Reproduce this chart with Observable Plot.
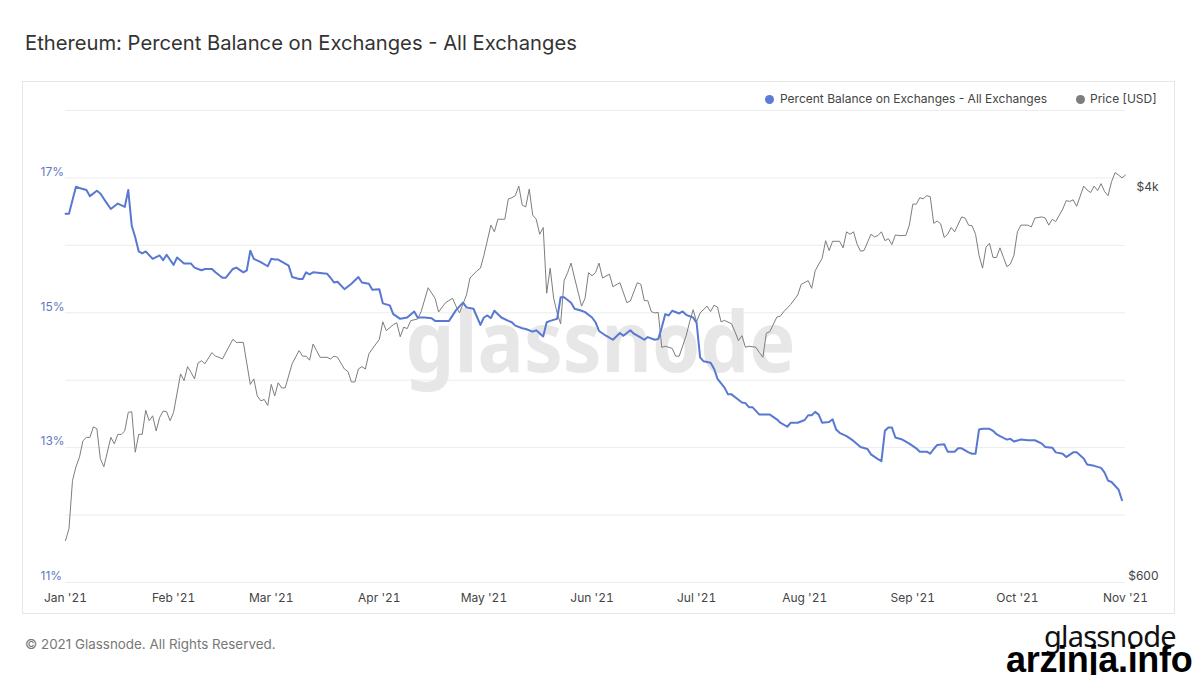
<!DOCTYPE html>
<html>
<head>
<meta charset="utf-8">
<script src="https://cdn.jsdelivr.net/npm/d3@7"></script>
<script src="https://cdn.jsdelivr.net/npm/@observablehq/plot@0.6"></script>
<style>
html,body{margin:0;padding:0;background:#fff;width:1199px;height:675px;overflow:hidden;font-family:Inter,"Noto Sans",sans-serif;}
#title{position:absolute;left:25px;top:30px;font-size:20.2px;color:#333;white-space:nowrap;}
#box{position:absolute;left:22px;top:81px;width:1151px;height:531px;border:1px solid #e6e6e6;box-sizing:content-box;}
#chart{position:absolute;left:0;top:0;}
.leg{position:absolute;top:91px;font-size:12px;color:#444;white-space:nowrap;line-height:16px;}
.dot{position:absolute;top:4px;width:9px;height:9px;border-radius:50%;}
#footer{position:absolute;left:25px;top:636px;font-size:13.4px;color:#777;white-space:nowrap;}
#logo{position:absolute;left:1044px;top:616px;font-family:"Noto Sans",sans-serif;font-size:29px;color:#111;letter-spacing:-0.8px;white-space:nowrap;}
#arz{position:absolute;left:1006px;top:642px;font-family:"Liberation Sans",Arial,sans-serif;font-weight:700;font-size:36px;color:#000;letter-spacing:-0.3px;white-space:nowrap;line-height:36px;}
</style>
</head>
<body>
<div id="title">Ethereum: Percent Balance on Exchanges - All Exchanges</div>
<div id="box"></div>
<div id="chart"></div>
<div class="leg" style="left:780px"><span class="dot" style="left:-15px;background:#5b7bd5"></span>Percent Balance on Exchanges - All Exchanges</div>
<div class="leg" style="left:1090px"><span class="dot" style="left:-14px;background:#7d7d7d"></span>Price [USD]</div>
<div id="footer">© 2021 Glassnode. All Rights Reserved.</div>
<div id="logo">glassnode</div>
<div id="arz">arzinja.info</div>
<script>
// days since 2021-01-01
const priceDay = [0,1,2,3,4,5,6,7,8,9,10,11,13,14,15,16,17,18,19,20,21,22,23,24,25,26,27,28,29,30,31,33,34,35,36,37,38,39,40,42,43,44,45,48,49,51,53,54,55,56,57,58,59,60,61,62,63,65,67,68,69,70,71,72,73,75,76,77,78,80,81,82,83,84,85,86,87,88,90,91,92,94,95,96,97,98,99,101,102,104,106,107,109,111,112,113,115,116,118,119,120,122,123,124,126,127,128,129,130,131,132,133,134,135,136,137,138,139,140,141,142,143,144,145,146,148,149,150,151,152,153,154,156,157,159,161,162,164,165,166,167,168,169,170,171,172,174,175,176,178,179,180,181,182,184,185,186,187,188,189,191,192,193,194,195,196,198,199,200,201,202,204,205,206,207,208,210,211,213,214,215,217,218,219,220,222,223,224,225,226,227,228,229,231,232,233,234,235,236,237,238,239,241,242,243,244,245,246,247,248,249,250,251,252,253,254,255,257,258,259,260,261,262,263,264,265,266,267,268,269,270,271,272,273,274,276,277,278,280,281,282,283,284,286,287,288,289,290,292,293,294,295,296,297,298,299,300,301,302,303,304];
const priceUsd = [736,780,986,1055,1105,1198,1218,1218,1282,1270,1097,1055,1218,1180,1236,1236,1257,1376,1380,1133,1236,1236,1390,1321,1353,1257,1342,1385,1380,1321,1376,1660,1606,1720,1673,1620,1750,1770,1745,1842,1810,1800,1785,1965,1936,1936,1577,1620,1491,1456,1465,1423,1577,1491,1590,1550,1550,1745,1860,1810,1810,1775,1920,1860,1800,1800,1785,1810,1800,1700,1680,1596,1596,1700,1720,1700,1830,1875,1965,2140,2050,2110,2130,1990,2085,2070,2152,2170,2250,2527,2400,2245,2350,2400,2310,2235,2440,2650,2745,2780,2960,3430,3320,3530,3530,3900,3920,3960,4150,3780,3750,4090,3600,3530,3280,3390,2460,2780,2400,2235,2120,2616,2720,2850,2650,2310,2400,2720,2680,2720,2850,2650,2700,2540,2590,2350,2370,2590,2570,2373,2373,2250,2235,2240,1890,1900,1880,1810,1810,2000,2140,2270,2140,2235,2310,2250,2320,2300,2140,2155,2120,2040,1952,2000,1890,1900,1890,1842,1800,2025,2040,2190,2200,2250,2290,2330,2440,2570,2616,2520,2745,2920,3180,3030,3170,3170,3070,3320,3280,3320,3130,3020,3030,3280,3240,3260,3320,3180,3210,3120,3270,3260,3260,3430,3800,3800,3920,3900,3960,3940,3460,3500,3450,3230,3280,3390,3320,3570,3550,3430,3420,3280,2960,2780,3080,3140,2930,2930,3070,2930,2800,2840,2960,3320,3430,3430,3400,3550,3570,3550,3430,3530,3490,3710,3866,3850,3880,3760,4150,4070,4020,4150,4060,4200,4040,3960,4240,4430,4380,4320,4380];

const balanceDay = [0,1,3,4,6,7,9,10,11,13,15,17,18,19,20,21,22,23,25,27,28,29,31,32,34,36,37,38,39,40,42,43,45,46,48,49,51,52,53,54,56,58,59,60,61,63,64,65,67,68,69,70,71,73,75,76,77,78,80,82,84,85,87,88,90,91,93,94,96,98,100,101,103,105,106,108,110,112,114,115,117,119,120,121,122,123,125,127,128,129,131,132,134,135,137,138,139,141,142,143,145,146,148,149,151,152,153,155,157,159,160,162,163,165,166,167,169,170,171,172,173,174,176,177,178,180,181,182,183,185,186,187,189,190,191,193,194,195,196,197,199,200,202,204,205,207,208,210,212,213,214,215,216,217,219,220,221,222,224,226,228,230,231,233,234,235,236,237,238,240,242,244,245,247,248,249,250,252,253,255,256,257,259,260,261,262,263,265,266,267,268,270,271,272,274,276,278,280,281,283,284,286,287,289,290,292,293,295,297,298,299,300,302,303];
const balancePct = [16.47,16.47,16.87,16.85,16.82,16.73,16.81,16.77,16.69,16.54,16.62,16.57,16.82,16.29,16.12,15.91,15.88,15.91,15.80,15.85,15.78,15.86,15.71,15.82,15.73,15.73,15.67,15.65,15.63,15.65,15.65,15.60,15.52,15.52,15.65,15.67,15.60,15.63,15.92,15.80,15.75,15.69,15.80,15.79,15.79,15.73,15.70,15.53,15.50,15.50,15.60,15.57,15.60,15.59,15.58,15.52,15.45,15.46,15.35,15.43,15.53,15.45,15.43,15.34,15.35,15.14,15.11,14.98,14.91,14.93,15.02,14.93,14.93,14.92,14.88,14.88,14.88,15.04,15.15,15.08,15.06,14.82,14.93,14.96,14.92,15.03,14.93,14.88,14.86,14.81,14.77,14.76,14.72,14.74,14.65,14.86,14.88,14.91,15.23,15.23,15.15,15.06,15.03,15.01,14.93,14.86,14.73,14.66,14.60,14.70,14.66,14.74,14.69,14.63,14.60,14.64,14.60,14.61,14.78,14.98,14.96,15.03,14.99,15.02,14.97,14.93,14.85,14.34,14.28,14.26,14.17,14.02,13.89,13.79,13.79,13.71,13.67,13.66,13.60,13.60,13.49,13.49,13.49,13.42,13.37,13.31,13.37,13.37,13.41,13.48,13.48,13.53,13.49,13.37,13.38,13.42,13.27,13.22,13.17,13.10,13.01,12.98,12.90,12.83,12.80,13.25,13.30,13.30,13.15,13.12,13.06,12.99,12.94,12.94,12.91,12.98,13.04,13.05,12.94,12.94,12.99,12.99,12.93,12.91,12.91,13.27,13.28,13.28,13.25,13.20,13.17,13.12,13.13,13.09,13.12,13.11,13.11,13.06,13.01,13.00,12.93,12.91,12.86,12.93,12.93,12.84,12.75,12.73,12.70,12.63,12.51,12.49,12.38,12.22];

const gridPct = [11,12,13,14,15,16,17,18];
const pctTicks = [11,13,15,17];
const priceTicks = [600,4000];
const priceTickLabels = ["$600","$4k"];
const priceDomain = [600,6000];

const t0 = Date.UTC(2021,0,1);
const dayToDate = d => new Date(t0 + d*864e5);
const price = priceDay.map((d,i)=>({date:dayToDate(d), value:priceUsd[i]}));
const balance = balanceDay.map((d,i)=>({date:dayToDate(d), value:balancePct[i]}));
// right (log) axis mapped onto the left axis range
const priceToPct = d3.scaleLog().domain(priceDomain).range([11,18]);
const monthTicks = d3.utcMonths(dayToDate(0), dayToDate(305));

const chart = Plot.plot({
  width:1199, height:613,
  marginLeft:65, marginRight:74, marginTop:110, marginBottom:31,
  x:{type:"utc", domain:[dayToDate(0), dayToDate(304)]},
  y:{domain:[11,18], axis:null},
  style:{fontFamily:"Inter, sans-serif", fontSize:"12px", color:"#444", background:"transparent", overflow:"visible"},
  marks:[
    Plot.ruleY(gridPct, {stroke:"#ececec", strokeWidth:1}),
    Plot.text(["glassnode"], {frameAnchor:"middle", fontSize:84, fontWeight:"bold", fill:"#e7e7e7", dy:-1, dx:5, fontFamily:"Noto Sans, sans-serif", className:"wm"}),
    Plot.line(price, {x:"date", y:d=>priceToPct(d.value), stroke:"#7d7d7d", strokeWidth:1}),
    Plot.line(balance, {x:"date", y:"value", stroke:"#5878d2", strokeWidth:2}),
    Plot.axisX({ticks:monthTicks, tickSize:0, tickPadding:11, tickFormat:d3.utcFormat("%b '%y"), label:null}),
    Plot.text(pctTicks, {y:d=>d, text:d=>d+"%", frameAnchor:"left", textAnchor:"start", dx:-25, dy:-6, fill:"#5f77c5"}),
    Plot.text(priceTicks, {y:d=>priceToPct(d), text:(d,i)=>priceTickLabels[i], frameAnchor:"right", textAnchor:"end", dx:33, dy:-6, fill:"#444"})
  ]
});
document.getElementById("chart").appendChild(chart);
d3.select(chart).selectAll("g.wm text").attr("textLength",390).attr("lengthAdjust","spacingAndGlyphs");
</script>
</body>
</html>
